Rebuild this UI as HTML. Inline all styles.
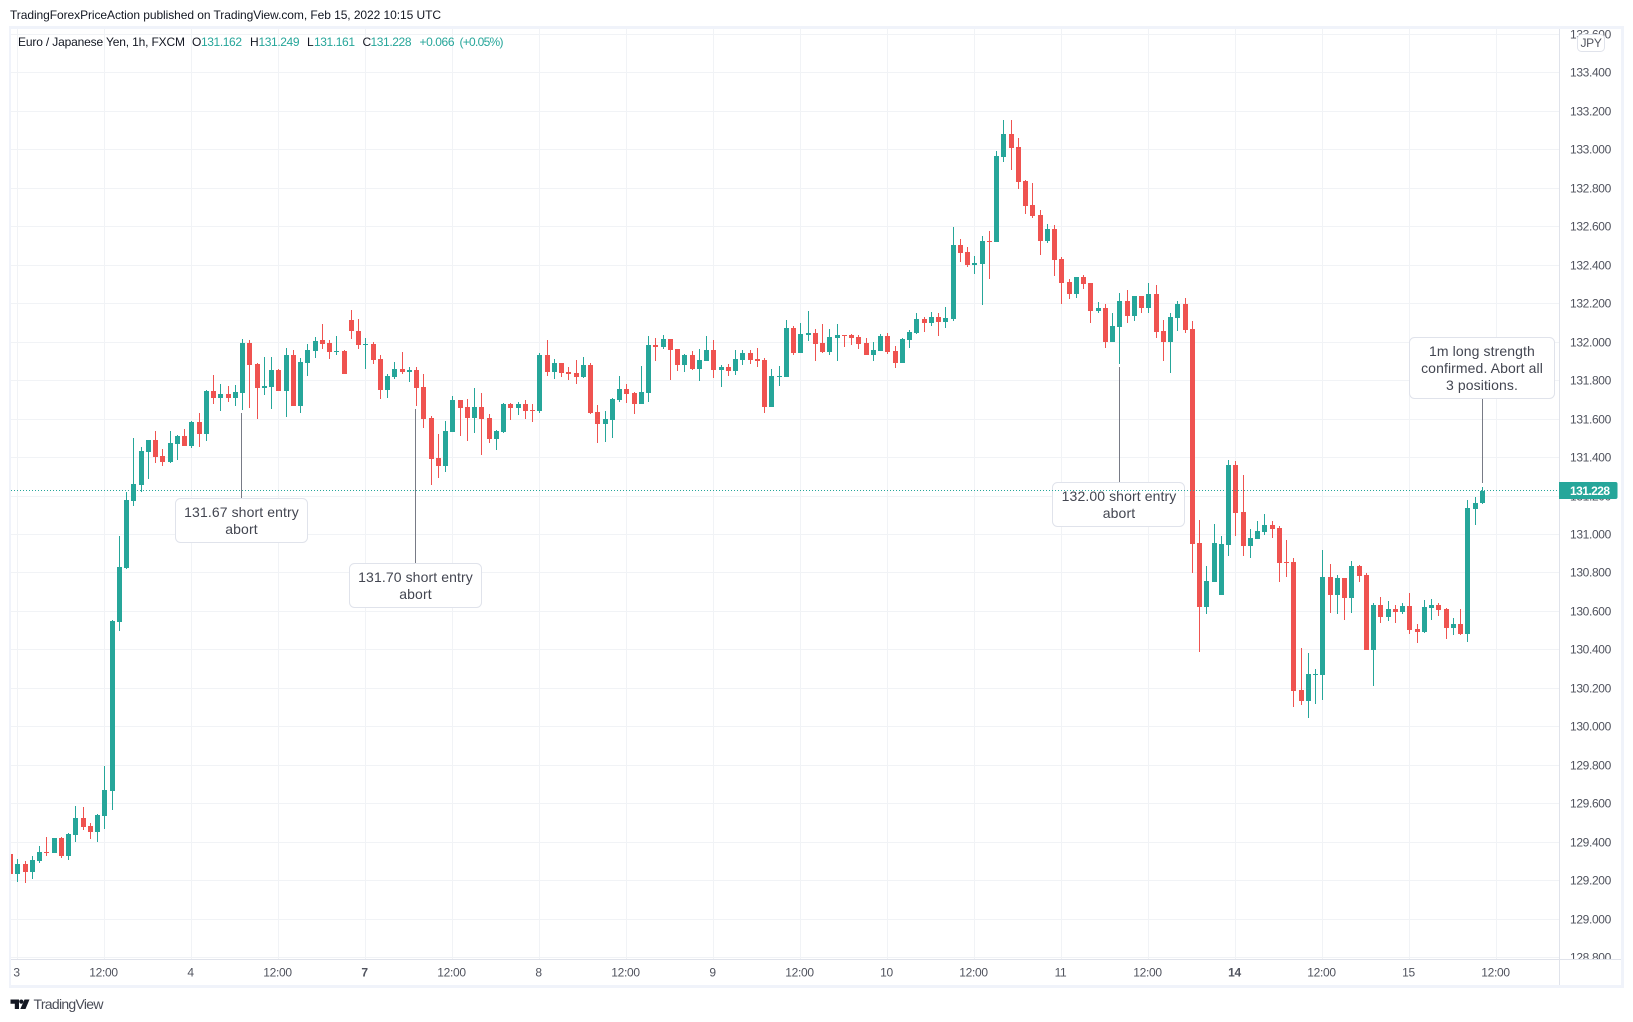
<!DOCTYPE html>
<html lang="en">
<head>
<meta charset="utf-8">
<title>EUR/JPY 1h chart</title>
<style>
html,body{margin:0;padding:0;background:#fff;width:1633px;height:1022px;overflow:hidden}
svg{display:block;font-family:"Liberation Sans",Arial,sans-serif}
.price-label{font-size:12px;fill:#50535e;letter-spacing:-.35px;text-anchor:start}
.time-label{font-size:12px;fill:#50535e;letter-spacing:-.3px;text-anchor:middle}
.note{font-size:14px;fill:#434651;text-anchor:middle;letter-spacing:.1px}
.legend{font-size:12px;fill:#131722}
.up{fill:#26a69a}
</style>
</head>
<body>
<svg id="chart" xmlns="http://www.w3.org/2000/svg" width="1633" height="1022" viewBox="0 0 1633 1022">
  <defs>
    <clipPath id="plot-clip"><rect x="11" y="29" width="1548" height="930"/></clipPath>
    <clipPath id="axis-clip"><rect x="1560" y="29" width="61" height="930"/></clipPath>
  </defs>
  <rect x="0" y="0" width="1633" height="1022" fill="#ffffff"/>
  <text x="10" y="19" font-size="12" fill="#131722" textLength="431" lengthAdjust="spacing">TradingForexPriceAction published on TradingView.com, Feb 15, 2022 10:15 UTC</text>
  <g id="grid"></g>
  <g id="candles" clip-path="url(#plot-clip)"></g>

  <g id="notes">
    <g>
      <line x1="241.5" x2="241.5" y1="413" y2="499" stroke="#787b86" stroke-width="1"/>
      <rect x="175.5" y="498.5" width="132" height="44" rx="5" fill="#fff" stroke="#e0e3eb" stroke-width="1"/>
      <text class="note" x="241.5" y="517">131.67 short entry</text>
      <text class="note" x="241.5" y="534">abort</text>
    </g>
    <g>
      <line x1="415.5" x2="415.5" y1="409" y2="564" stroke="#787b86" stroke-width="1"/>
      <rect x="349.5" y="563.5" width="132" height="44" rx="5" fill="#fff" stroke="#e0e3eb" stroke-width="1"/>
      <text class="note" x="415.5" y="582">131.70 short entry</text>
      <text class="note" x="415.5" y="599">abort</text>
    </g>
    <g>
      <line x1="1119.5" x2="1119.5" y1="367" y2="483" stroke="#787b86" stroke-width="1"/>
      <rect x="1052.5" y="482.5" width="132" height="44" rx="5" fill="#fff" stroke="#e0e3eb" stroke-width="1"/>
      <text class="note" x="1119" y="501">132.00 short entry</text>
      <text class="note" x="1119" y="518">abort</text>
    </g>
    <g>
      <line x1="1482.5" x2="1482.5" y1="398" y2="483" stroke="#787b86" stroke-width="1"/>
      <rect x="1409.5" y="337.5" width="145" height="61" rx="5" fill="#fff" stroke="#e0e3eb" stroke-width="1"/>
      <text class="note" x="1482" y="356">1m long strength</text>
      <text class="note" x="1482" y="373">confirmed. Abort all</text>
      <text class="note" x="1482" y="390">3 positions.</text>
    </g>
  </g>
  <line id="last-line" x1="11" x2="1559" stroke="#26a69a" stroke-width="1" stroke-dasharray="1 2"/>

  <g>
    <rect x="9" y="26" width="1615" height="3" fill="#f0f3fa"/>
    <rect x="9" y="26" width="2" height="962" fill="#f0f3fa"/>
    <rect x="1621" y="26" width="3" height="962" fill="#f0f3fa"/>
    <rect x="9" y="985" width="1615" height="3" fill="#f0f3fa"/>
    <rect x="11" y="959" width="1610" height="1" fill="#e0e3eb"/>
    <rect x="1559" y="29" width="1" height="956" fill="#e0e3eb"/>
  </g>

  <g id="price-axis" clip-path="url(#axis-clip)"></g>
  <g id="time-axis"></g>

  <g>
    <rect x="1577.5" y="34.5" width="27" height="17" rx="4" fill="#fff" stroke="#e0e3eb"/>
    <text x="1591" y="47" font-size="12" fill="#50535e" text-anchor="middle" letter-spacing="-.3">JPY</text>
  </g>

  <g id="price-tag"></g>

  <g>
    <text class="legend" x="18" y="46" textLength="167" lengthAdjust="spacing">Euro / Japanese Yen, 1h, FXCM</text>
    <text class="legend" x="192" y="46">O</text>
    <text class="legend up" x="201" y="46" textLength="41" lengthAdjust="spacing">131.162</text>
    <text class="legend" x="250" y="46">H</text>
    <text class="legend up" x="258.5" y="46" textLength="41" lengthAdjust="spacing">131.249</text>
    <text class="legend" x="307" y="46">L</text>
    <text class="legend up" x="314" y="46" textLength="41" lengthAdjust="spacing">131.161</text>
    <text class="legend" x="362.5" y="46">C</text>
    <text class="legend up" x="370.5" y="46" textLength="41" lengthAdjust="spacing">131.228</text>
    <text class="legend up" x="419.5" y="46" textLength="35" lengthAdjust="spacing">+0.066</text>
    <text class="legend up" x="459.5" y="46" textLength="44" lengthAdjust="spacing">(+0.05%)</text>
  </g>

  <g>
    <path d="M10.5 999.5h8.5v9.5h-4.2v-5.3h-4.3z M24.5 999.5h5l-4 9.5h-5.2z" fill="#131722"/>
    <circle cx="21.3" cy="1001.6" r="2.1" fill="#131722"/>
    <text x="33.5" y="1009" font-size="14" fill="#4a4d58" textLength="70" lengthAdjust="spacing">TradingView</text>
  </g>
</svg>

<script>
// Bars run hourly; firstBar is the partly hidden bar just before the "3" gridline.
const firstBar = -1;
const opens = [
129.339,129.237,129.287,129.248,129.305,129.350,129.346,129.423,129.331,129.440,129.527,129.485,129.456,129.539,129.669,130.547,130.826,131.176,131.259,131.431,
131.491,131.408,131.379,131.472,131.512,131.462,131.585,131.524,131.746,131.711,131.730,131.711,131.737,131.995,131.886,131.763,131.768,131.855,131.748,131.933,
131.670,131.893,131.955,132.011,131.995,131.950,131.954,132.115,132.059,131.987,131.990,131.912,131.753,131.820,131.860,131.846,131.855,131.767,131.606,131.398,
131.358,131.535,131.699,131.663,131.607,131.663,131.606,131.498,131.535,131.678,131.659,131.678,131.647,131.642,131.933,131.845,131.891,131.845,131.839,131.819,
131.881,131.637,131.574,131.595,131.699,131.756,131.736,131.678,131.736,131.985,131.975,132.016,131.964,131.881,131.933,131.860,131.902,131.959,131.855,131.871,
131.850,131.907,131.943,131.912,131.907,131.663,131.819,131.819,132.073,131.943,132.037,132.047,131.995,131.949,132.021,132.037,132.037,132.027,131.995,131.933,
131.954,132.032,131.954,131.891,132.011,132.047,132.120,132.099,132.131,132.105,132.120,132.505,132.468,132.401,132.406,132.525,132.520,132.962,133.082,133.014,
132.837,132.713,132.661,132.525,132.588,132.432,132.312,132.250,132.338,132.307,132.162,132.177,132.001,132.079,132.214,132.136,132.240,132.177,132.250,132.058,
132.001,132.125,132.198,132.068,130.956,130.623,130.753,130.686,130.945,131.361,131.117,130.940,130.977,131.013,131.049,131.034,130.857,130.857,130.192,130.135,
130.270,130.270,130.779,130.686,130.774,130.670,130.836,130.790,130.400,130.634,130.571,130.613,130.597,130.628,130.509,130.493,130.618,130.634,130.613,130.514,
130.535,130.483,131.133,131.162
];
const highs = [
129.350,129.313,129.301,129.329,129.381,129.428,129.423,129.428,129.447,129.589,129.584,129.500,129.547,129.797,130.555,130.992,131.221,131.502,131.453,131.491,
131.538,131.444,131.538,131.517,131.548,131.590,131.632,131.751,131.829,131.782,131.772,131.777,132.014,132.010,131.891,131.923,131.923,131.858,131.969,131.959,
131.917,131.990,132.029,132.094,132.010,132.030,131.959,132.167,132.120,132.020,132.000,131.933,131.834,131.897,131.949,131.871,131.871,131.834,131.616,131.522,
131.590,131.720,131.699,131.704,131.761,131.735,131.626,131.543,131.684,131.684,131.689,131.699,131.678,131.943,132.011,131.912,131.891,131.871,131.907,131.923,
131.891,131.673,131.642,131.710,131.824,131.782,131.741,131.876,132.032,132.021,132.037,132.016,131.964,131.938,131.954,131.964,132.032,132.011,131.881,131.886,
131.959,131.959,131.959,131.969,131.917,131.860,131.876,132.115,132.084,132.099,132.162,132.068,132.094,132.068,132.094,132.037,132.042,132.037,132.021,132.000,
132.042,132.047,131.980,132.021,132.063,132.151,132.131,132.157,132.151,132.183,132.598,132.536,132.494,132.448,132.551,132.577,132.993,133.154,133.154,133.061,
132.843,132.827,132.687,132.614,132.609,132.442,132.328,132.338,132.349,132.307,132.208,132.198,132.151,132.255,132.271,132.240,132.240,132.307,132.297,132.115,
132.151,132.214,132.229,132.110,131.075,130.836,131.055,130.992,131.387,131.382,131.309,131.029,131.070,131.107,131.070,131.044,130.971,130.878,130.410,130.384,
130.301,130.919,130.847,130.790,130.774,130.862,130.841,130.800,130.644,130.675,130.654,130.634,130.644,130.696,130.535,130.660,130.665,130.644,130.618,130.566,
130.613,131.179,131.195,131.249
];
const lows = [
129.230,129.196,129.190,129.209,129.294,129.331,129.346,129.320,129.310,129.404,129.466,129.419,129.404,129.471,129.570,130.500,130.819,131.150,131.223,131.290,
131.373,131.358,131.372,131.389,131.460,131.451,131.457,131.488,131.680,131.644,131.690,131.670,131.649,131.659,131.602,131.727,131.654,131.748,131.612,131.670,
131.633,131.826,131.919,131.966,131.914,131.933,131.836,132.016,131.963,131.862,131.888,131.706,131.711,131.810,131.836,131.794,131.670,131.555,131.259,131.295,
131.327,131.535,131.514,131.488,131.529,131.415,131.477,131.441,131.529,131.597,131.623,131.600,131.585,131.632,131.824,131.808,131.819,131.803,131.782,131.813,
131.626,131.476,131.481,131.502,131.689,131.684,131.626,131.678,131.689,131.902,131.964,131.803,131.850,131.845,131.855,131.798,131.902,131.813,131.767,131.824,
131.829,131.881,131.886,131.871,131.632,131.663,131.772,131.819,131.933,131.943,132.006,131.902,131.943,131.933,131.902,131.975,131.985,131.964,131.933,131.902,
131.954,131.938,131.865,131.891,131.969,132.042,132.053,132.084,132.032,132.073,132.110,132.416,132.390,132.354,132.193,132.328,132.520,132.936,132.895,132.796,
132.666,132.645,132.453,132.515,132.344,132.198,132.224,132.229,132.276,132.099,132.151,131.969,132.001,131.886,132.099,132.110,132.151,132.151,132.021,131.902,
131.839,132.058,132.047,130.800,130.389,130.587,130.753,130.686,130.888,130.992,130.888,130.878,130.977,130.997,130.982,130.753,130.779,130.104,130.114,130.046,
130.119,130.140,130.592,130.587,130.556,130.592,130.753,130.400,130.213,130.540,130.550,130.540,130.587,130.483,130.436,130.488,130.556,130.576,130.457,130.478,
130.478,130.441,131.049,131.161
];
const closes = [
129.237,129.287,129.248,129.308,129.350,129.345,129.423,129.331,129.443,129.527,129.482,129.456,129.542,129.672,130.550,130.831,131.179,131.262,131.434,131.491,
131.405,131.379,131.476,131.514,131.462,131.586,131.524,131.746,131.711,131.730,131.711,131.741,131.995,131.883,131.763,131.772,131.855,131.748,131.933,131.670,
131.897,131.959,132.006,131.992,131.950,131.954,131.836,132.059,131.985,131.990,131.909,131.753,131.824,131.860,131.846,131.855,131.763,131.602,131.394,131.358,
131.538,131.699,131.659,131.607,131.663,131.602,131.498,131.540,131.678,131.659,131.678,131.642,131.642,131.933,131.845,131.891,131.839,131.834,131.819,131.881,
131.632,131.574,131.600,131.704,131.756,131.730,131.678,131.741,131.985,131.975,132.016,131.959,131.881,131.933,131.860,131.907,131.959,131.855,131.871,131.850,
131.912,131.943,131.907,131.902,131.663,131.824,131.824,132.073,131.943,132.042,132.047,131.990,131.949,132.027,132.037,132.032,132.021,131.990,131.933,131.959,
132.032,131.949,131.891,132.016,132.053,132.120,132.099,132.131,132.105,132.125,132.505,132.463,132.401,132.411,132.525,132.520,132.967,133.082,133.009,132.832,
132.707,132.655,132.525,132.588,132.427,132.307,132.250,132.338,132.302,132.162,132.177,132.001,132.084,132.214,132.136,132.240,132.177,132.250,132.053,132.001,
132.130,132.198,132.063,130.951,130.623,130.758,130.956,130.951,131.361,131.112,130.940,130.982,131.018,131.049,131.029,130.852,130.852,130.187,130.135,130.275,
130.275,130.779,130.686,130.774,130.670,130.836,130.784,130.400,130.634,130.571,130.613,130.597,130.628,130.504,130.493,130.623,130.634,130.608,130.514,130.535,
130.483,131.138,131.164,131.228
];
const lastPrice = 131.228;
const priceTicks = ["133.600","133.400","133.200","133.000","132.800","132.600","132.400","132.200","132.000","131.800","131.600","131.400","131.200","131.000","130.800","130.600","130.400","130.200","130.000","129.800","129.600","129.400","129.200","129.000","128.800"];
const timeTicks = ["3","12:00","4","12:00","7","12:00","8","12:00","9","12:00","10","12:00","11","12:00","14","12:00","15","12:00"];
const weekStartTicks = ["7","14"];
const barsPerTimeTick = 12;

const SVGNS = "http://www.w3.org/2000/svg";
function yScale(price){ return 919.3 - (price - 129) * 192.4; }
function xScale(barNumber){ return 17.3 + barNumber * 7.25; }
function make(tag, attrs, parent){
  const el = document.createElementNS(SVGNS, tag);
  for (const k in attrs) el.setAttribute(k, attrs[k]);
  parent.appendChild(el);
  return el;
}

const gridGroup = document.getElementById("grid");
const priceGroup = document.getElementById("price-axis");
const timeGroup = document.getElementById("time-axis");
const candleGroup = document.getElementById("candles");
const tagGroup = document.getElementById("price-tag");

priceTicks.forEach(function(label){
  const y = Math.floor(yScale(parseFloat(label)));
  const line = make("rect", {x:11, y:y, width:1548, height:1, fill:"#f1f3f6"}, gridGroup);
  
  
  const text = make("text", {"class":"price-label", x:1570, y:y + 4.5}, priceGroup);
  text.textContent = label;
  
  
});

timeTicks.forEach(function(label, k){
  const x = Math.round(xScale(k * barsPerTimeTick));
  const line = make("rect", {x:x, y:29, width:1, height:930, fill:"#f1f3f6"}, gridGroup);
  
  
  const text = make("text", {"class":"time-label", x:x - 0.5, y:976.5}, timeGroup);
  text.textContent = label;
  if (weekStartTicks.indexOf(label) >= 0) { text.setAttribute("font-weight", "bold"); }
  
  
});

opens.forEach(function(open, i){
  const close = closes[i];
  const color = close >= open ? "#26a69a" : "#ef5350";
  const x = Math.round(xScale(firstBar + i));
  const g = make("g", {"shape-rendering":"crispEdges"}, candleGroup);
  
  
  const hiY = Math.round(yScale(highs[i]));
  const loY = Math.round(yScale(lows[i]));
  const wick = make("rect", {x:x, y:hiY, width:1, height:Math.max(1, loY - hiY), fill:color}, g);
  
  
  const topY = Math.round(yScale(Math.max(open, close)));
  const botY = Math.round(yScale(Math.min(open, close)));
  const body = make("rect", {x:x - 2, y:topY, width:5, height:Math.max(1, botY - topY), fill:color}, g);
  
  
});

const lastY = Math.floor(yScale(lastPrice)) + 0.5;
const lastLine = document.getElementById("last-line");
lastLine.setAttribute("y1", lastY);
lastLine.setAttribute("y2", lastY);

const tagBox = make("path", {d:"M1559 " + (lastY - 8.5) + "h56.5a2 2 0 0 1 2 2v13a2 2 0 0 1 -2 2h-56.5z", fill:"#26a69a"}, tagGroup);


const tagText = make("text", {x:1570, y:lastY + 4.5, "font-size":12, "font-weight":"bold", fill:"#ffffff", "letter-spacing":"-.55"}, tagGroup);
tagText.textContent = lastPrice.toFixed(3);


</script>
</body>
</html>
